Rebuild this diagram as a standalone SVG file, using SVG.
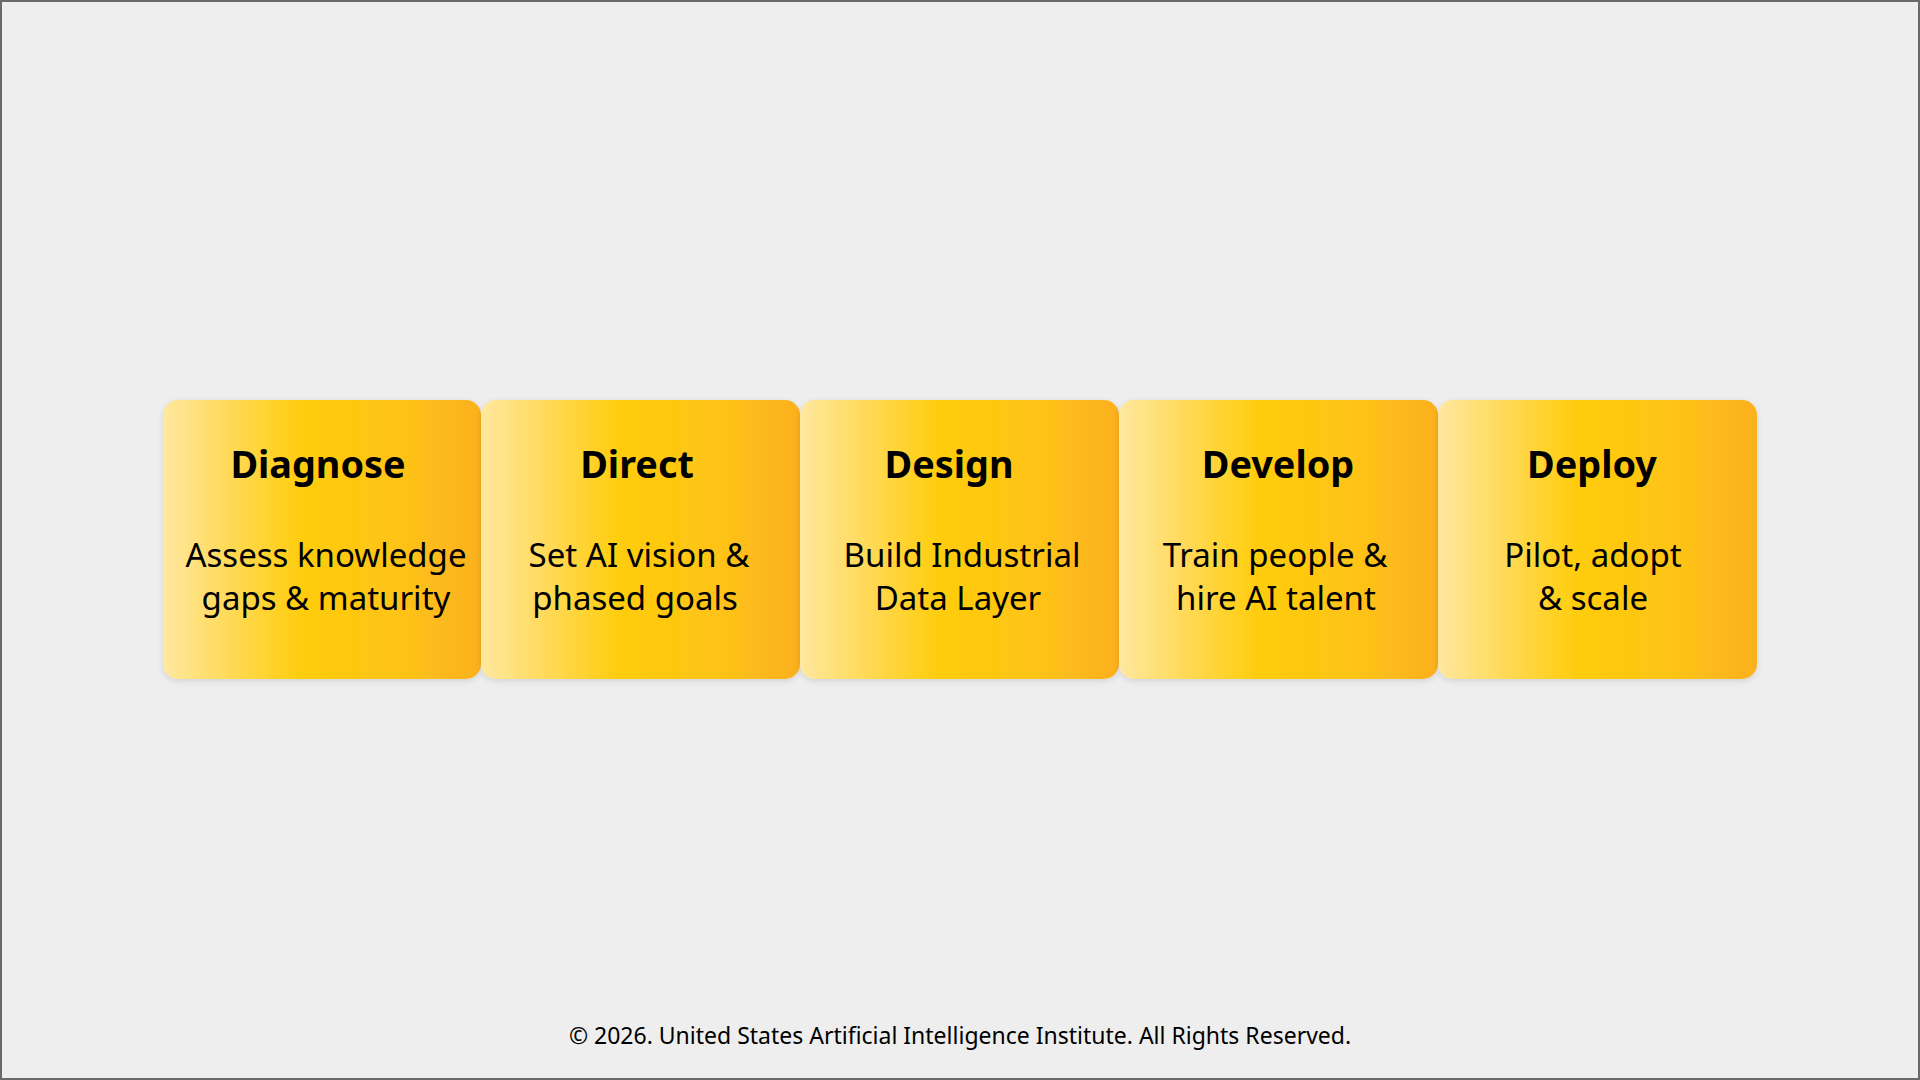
<svg xmlns="http://www.w3.org/2000/svg" width="1920" height="1080" viewBox="0 0 1920 1080">
  <defs>
    <linearGradient id="boxGrad" x1="0" y1="0" x2="1" y2="0">
      <stop offset="0" stop-color="#FFE8A0"/>
      <stop offset="0.2" stop-color="#FFDA5A"/>
      <stop offset="0.45" stop-color="#FFCC08"/>
      <stop offset="0.75" stop-color="#FEC318"/>
      <stop offset="1" stop-color="#FBB01F"/>
    </linearGradient>
    <filter id="shadow" x="-10%" y="-10%" width="120%" height="125%">
      <feGaussianBlur in="SourceAlpha" stdDeviation="3"/>
      <feOffset dy="2" result="b"/>
      <feComponentTransfer><feFuncA type="linear" slope="0.12"/></feComponentTransfer>
      <feMerge><feMergeNode/><feMergeNode in="SourceGraphic"/></feMerge>
    </filter>
  </defs>
  <style>
    .box { fill: url(#boxGrad); filter: url(#shadow); }
    .title { font-family: "Noto Sans", "Open Sans", sans-serif; font-weight: bold; font-size: 37.8px; fill: #000; text-anchor: middle; }
    .body { font-family: "Noto Sans", "Open Sans", sans-serif; font-size: 33px; fill: #000; text-anchor: middle; }
    .footer { font-family: "Noto Sans", "Open Sans", sans-serif; font-size: 23px; fill: #000; text-anchor: middle; }
  </style>
  <rect x="0" y="0" width="1920" height="1080" fill="#EEEEEE"/>
  <rect x="1" y="1" width="1918" height="1078" fill="none" stroke="#6A6A6A" stroke-width="2"/>
  <g id="connectors"></g>
  <g id="node-diagnose">
    <rect class="box" x="163" y="400" width="318" height="279" rx="15"/>
    <text class="title" x="318" y="478">Diagnose</text>
    <text class="body" x="326" y="567">Assess knowledge</text>
    <text class="body" x="326" y="610">gaps &amp; maturity</text>
  </g>
  <g id="node-direct">
    <rect class="box" x="481" y="400" width="319" height="279" rx="15"/>
    <text class="title" x="637" y="478">Direct</text>
    <text class="body" x="639" y="567">Set AI vision &amp;</text>
    <text class="body" x="635" y="610">phased goals</text>
  </g>
  <g id="node-design">
    <rect class="box" x="800" y="400" width="319" height="279" rx="15"/>
    <text class="title" x="949" y="478">Design</text>
    <text class="body" x="962" y="567">Build Industrial</text>
    <text class="body" x="958" y="610">Data Layer</text>
  </g>
  <g id="node-develop">
    <rect class="box" x="1119" y="400" width="319" height="279" rx="15"/>
    <text class="title" x="1278" y="478">Develop</text>
    <text class="body" x="1275" y="567">Train people &amp;</text>
    <text class="body" x="1276" y="610">hire AI talent</text>
  </g>
  <g id="node-deploy">
    <rect class="box" x="1438" y="400" width="319" height="279" rx="15"/>
    <text class="title" x="1592" y="478">Deploy</text>
    <text class="body" x="1593" y="567">Pilot, adopt</text>
    <text class="body" x="1593" y="610">&amp; scale</text>
  </g>
  <text class="footer" x="960" y="1044">© 2026. United States Artificial Intelligence Institute. All Rights Reserved.</text>
</svg>
